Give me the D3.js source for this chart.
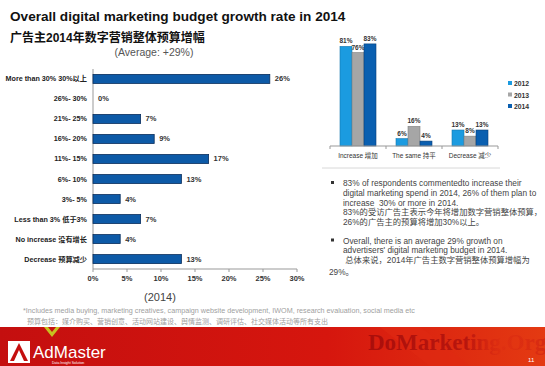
<!DOCTYPE html>
<html lang="en">
<head>
  <meta charset="UTF-8">
  <title>Overall digital marketing budget growth rate in 2014</title>
  <script src="https://d3js.org/d3.v7.min.js"></script>
  <style>
    body { margin: 0; background: #fff; }
    svg { display: block; }
    text { font-family: "Liberation Sans", Arial, "Noto Sans CJK SC", sans-serif; }
    .cjk { font-family: "Liberation Sans", "Noto Sans CJK SC", sans-serif; }
  </style>
</head>
<body>
  <svg width="545" height="366"></svg>
  <script>
    // left chart: growth rate distribution (2014)
    const rangeLabels = ["More than 30% 30%以上", "26%- 30%", "21%- 25%", "16%- 20%", "11%- 15%",
                         "6%- 10%", "3%- 5%", "Less than 3% 低于3%", "No increase 没有增长", "Decrease 预算减少"];
    const rangeValues = [26, 0, 7, 9, 17, 13, 4, 7, 4, 13];
    const xTicks = [0, 5, 10, 15, 20, 25, 30];

    // right chart: budget trend by year
    const trendCats = ["Increase 增加", "The same 持平", "Decrease 减少"];
    const years = ["2012", "2013", "2014"];
    const v2012 = [81, 6, 13];
    const v2013 = [76, 16, 8];
    const v2014 = [83, 4, 13];

    const bullets = [
      ["83% of respondents commentedto increase their",
       "digital marketing spend in 2014, 26% of them plan to",
       "increase  30% or more in 2014.",
       "83%的受访广告主表示今年将增加数字营销整体预算，",
       "26%的广告主的预算将增加30%以上。"],
      ["Overall, there is an average 29% growth on",
       "advertisers' digital marketing budget in 2014.",
       " 总体来说，2014年广告主数字营销整体预算增幅为"]
    ];

    const svg = d3.select("svg");

    // titles
    svg.append("text").attr("x", 10).attr("y", 21)
      .attr("font-size", 13.6).attr("font-weight", "bold").attr("fill", "#111")
      .text("Overall digital marketing budget growth rate in 2014");
    svg.append("text").attr("class", "cjk").attr("x", 10).attr("y", 42)
      .attr("font-size", 12).attr("font-weight", "bold").attr("fill", "#111")
      .text("广告主2014年数字营销整体预算增幅");
    svg.append("text").attr("x", 154).attr("y", 56).attr("text-anchor", "middle")
      .attr("font-size", 10.5).attr("fill", "#555")
      .text("(Average: +29%)");

    // ---- left horizontal bar chart ----
    const x = d3.scaleLinear().domain([0, 30]).range([93, 297]);
    const y = d3.scaleBand().domain(rangeLabels).range([69, 269]).paddingInner(0.55).paddingOuter(0.27);

    const left = svg.append("g");
    left.append("line").attr("x1", 93).attr("x2", 93).attr("y1", 69).attr("y2", 269)
      .attr("stroke", "#999");
    left.append("line").attr("x1", 93).attr("x2", 297).attr("y1", 269).attr("y2", 269)
      .attr("stroke", "#999");
    left.selectAll(".xt").data(xTicks).enter().append("line")
      .attr("x1", d => x(d)).attr("x2", d => x(d)).attr("y1", 269).attr("y2", 272)
      .attr("stroke", "#999");
    left.selectAll(".xl").data(xTicks).enter().append("text")
      .attr("x", d => x(d)).attr("y", 281).attr("text-anchor", "middle")
      .attr("font-size", 7.5).attr("font-weight", "bold").attr("fill", "#333")
      .text(d => d + "%");

    left.selectAll(".bar").data(rangeValues).enter().append("rect")
      .attr("x", x(0)).attr("y", (d, i) => y(rangeLabels[i]))
      .attr("width", d => x(d) - x(0)).attr("height", y.bandwidth())
      .attr("fill", "#0d5aa7").attr("stroke", "#0a2e5c").attr("stroke-width", 0.8)
      .style("display", d => d > 0 ? null : "none");
    left.selectAll(".val").data(rangeValues).enter().append("text")
      .attr("x", d => x(d) + 5).attr("y", (d, i) => y(rangeLabels[i]) + y.bandwidth() / 2 + 2.5)
      .attr("font-size", 7.5).attr("font-weight", "bold").attr("fill", "#333")
      .text(d => d + "%");
    left.selectAll(".cat").data(rangeLabels).enter().append("text")
      .attr("class", "cjk")
      .attr("x", 87).attr("y", d => y(d) + y.bandwidth() / 2 + 2.5).attr("text-anchor", "end")
      .attr("font-size", 7.2).attr("font-weight", "bold").attr("fill", "#222")
      .text(d => d);

    svg.append("text").attr("x", 160).attr("y", 301).attr("text-anchor", "middle")
      .attr("font-size", 11).attr("fill", "#444").text("(2014)");

    // ---- right grouped column chart ----
    const series = [v2012, v2013, v2014];
    const colors = ["#1b9be0", "#a6a6a6", "#0a5fb0"];
    const strokes = ["#1478b0", "#808080", "#073f78"];
    const gx = d3.scaleBand().domain(trendCats).range([330, 498]);
    const sx = d3.scaleBand().domain(years).range([10, 46]);
    const gy = d3.scaleLinear().domain([0, 100]).range([146, 23]);

    const right = svg.append("g");
    years.forEach((yr, j) => {
      right.selectAll(".b" + yr).data(series[j]).enter().append("rect")
        .attr("x", (d, i) => gx(trendCats[i]) + sx(yr)).attr("y", d => gy(d))
        .attr("width", sx.bandwidth()).attr("height", d => gy(0) - gy(d))
        .attr("fill", colors[j]).attr("stroke", strokes[j]).attr("stroke-width", 0.6);
      right.selectAll(".l" + yr).data(series[j]).enter().append("text")
        .attr("x", (d, i) => gx(trendCats[i]) + sx(yr) + sx.bandwidth() / 2)
        .attr("y", d => gy(d) - 3).attr("text-anchor", "middle")
        .attr("font-size", 6.5).attr("font-weight", "bold").attr("fill", "#333")
        .text(d => d + "%");
    });
    right.append("line").attr("x1", 330).attr("x2", 498).attr("y1", 146).attr("y2", 146)
      .attr("stroke", "#999");
    right.selectAll(".gt").data([330, 386, 442, 498]).enter().append("line")
      .attr("x1", d => d).attr("x2", d => d).attr("y1", 146).attr("y2", 149)
      .attr("stroke", "#999");
    right.selectAll(".gl").data(trendCats).enter().append("text")
      .attr("class", "cjk")
      .attr("x", d => gx(d) + gx.bandwidth() / 2).attr("y", 158).attr("text-anchor", "middle")
      .attr("font-size", 6.5).attr("fill", "#333").text(d => d);
    right.append("line").attr("x1", 322).attr("x2", 500).attr("y1", 168).attr("y2", 168)
      .attr("stroke", "#d8d8d8");

    // legend
    years.forEach((yr, j) => {
      right.append("rect").attr("x", 508).attr("y", 81 + j * 11.5).attr("width", 4).attr("height", 4)
        .attr("fill", colors[j]);
      right.append("text").attr("x", 514).attr("y", 86 + j * 11.5)
        .attr("font-size", 6.8).attr("font-weight", "bold").attr("fill", "#333").text(yr);
    });

    // bullet text
    const txt = svg.append("g").attr("font-size", 8.3).attr("fill", "#444");
    let ty = 186;
    bullets.forEach((lines, b) => {
      txt.append("rect").attr("x", 331).attr("y", ty - 5).attr("width", 3).attr("height", 3).attr("fill", "#333");
      lines.forEach((ln, k) => {
        txt.append("text").attr("class", "cjk").attr("x", 343).attr("y", ty + k * 9.8)
          .attr("xml:space", "preserve").text(ln);
      });
      ty += lines.length * 9.8 + (b === 0 ? 8.5 : 0);
    });
    txt.append("text").attr("class", "cjk").attr("x", 329).attr("y", 275).text("29%。");

    // footnote
    svg.append("text").attr("x", 23).attr("y", 313).attr("font-size", 7.2).attr("fill", "#a0a0a0")
      .text("*Includes media buying, marketing creatives, campaign website development, IWOM, research evaluation, social media etc");
    svg.append("text").attr("class", "cjk").attr("x", 27).attr("y", 324).attr("font-size", 7).attr("fill", "#a0a0a0")
      .text("预算包括：媒介购买、营销创意、活动网站建设、舆情监测、调研评估、社交媒体活动等所有支出");

    // footer banner
    const defs = svg.append("defs");
    const grad = defs.append("linearGradient").attr("id", "red").attr("x1", 0).attr("x2", 1);
    grad.append("stop").attr("offset", 0).attr("stop-color", "#c40f0f");
    grad.append("stop").attr("offset", 0.6).attr("stop-color", "#d6160e");
    grad.append("stop").attr("offset", 1).attr("stop-color", "#e43a12");
    const fade = defs.append("linearGradient").attr("id", "fade").attr("x1", 0).attr("x2", 1);
    fade.append("stop").attr("offset", 0).attr("stop-color", "#9e0a0a").attr("stop-opacity", 0.8);
    fade.append("stop").attr("offset", 0.55).attr("stop-color", "#a80c0c").attr("stop-opacity", 0.7);
    fade.append("stop").attr("offset", 0.75).attr("stop-color", "#d01a10").attr("stop-opacity", 0.15);
    fade.append("stop").attr("offset", 1).attr("stop-color", "#c01010").attr("stop-opacity", 0.4);
    svg.append("rect").attr("x", 0).attr("y", 327).attr("width", 545).attr("height", 39).attr("fill", "url(#red)");
    svg.append("path").attr("d", "M380,327 L420,327 L470,366 L430,366 Z").attr("fill", "#e02a12").attr("opacity", 0.6);
    svg.append("path").attr("d", "M44,327 L52,337 L60,327 L56,327 L52,332 L48,327 Z").attr("fill", "#c8c020");
    svg.append("rect").attr("x", 8).attr("y", 341).attr("width", 22).attr("height", 22).attr("fill", "#fff");
    svg.append("path").attr("d", "M10,361 L19,343 L28,361 L24,361 L19,350 L14,361 Z").attr("fill", "#c40f0f");
    svg.append("text").attr("x", 33).attr("y", 358).attr("font-size", 17).attr("fill", "#fff").text("AdMaster");
    svg.append("text").attr("x", 52).attr("y", 363.5).attr("font-size", 3.5).attr("fill", "#fff").text("Data Insight Solution");
    svg.append("text").attr("x", 368).attr("y", 350).attr("font-size", 23).attr("font-weight", "bold")
      .style("font-family", "'Liberation Serif', 'DejaVu Serif', serif").attr("fill", "url(#fade)")
      .text("DoMarketing.Org");
    svg.append("text").attr("x", 528).attr("y", 362).attr("font-size", 6).attr("fill", "#fff").text("11");
  </script>
</body>
</html>
